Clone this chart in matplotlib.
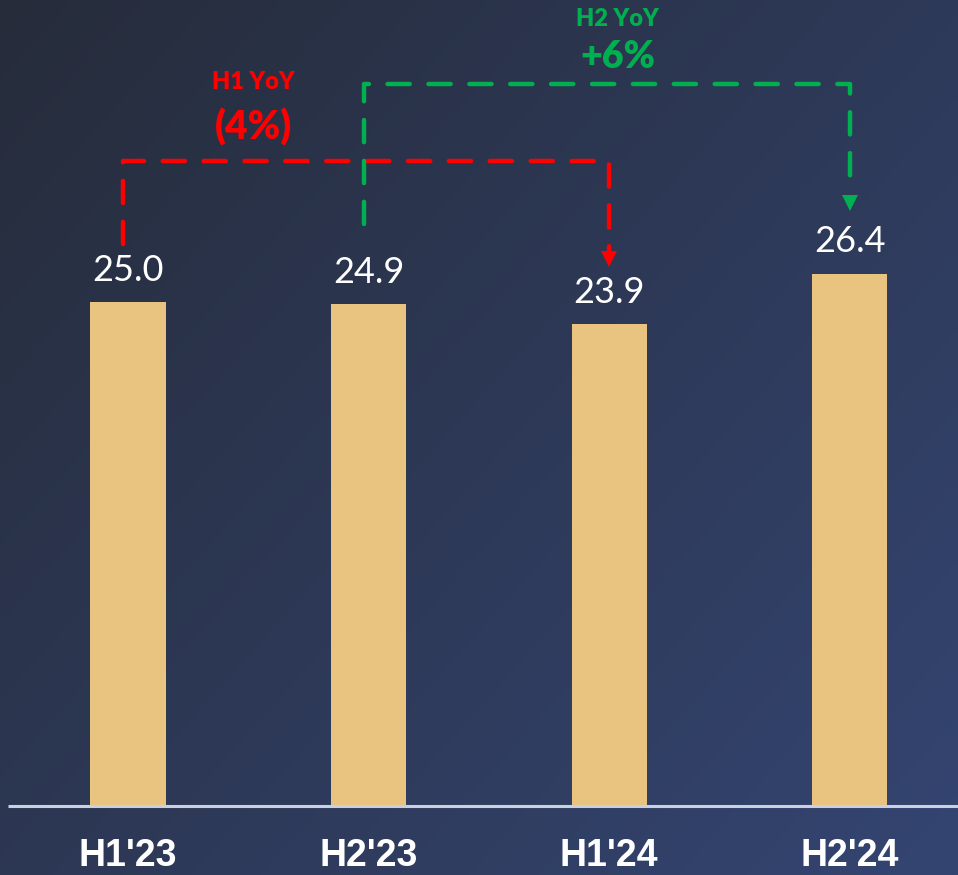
import numpy as np
import matplotlib.pyplot as plt

# data
periods = ["H1'23", "H2'23", "H1'24", "H2'24"]
values = [25.0, 24.9, 23.9, 26.4]
h1_label = "H1 YoY"
h1_change = "(4%)"
h2_label = "H2 YoY"
h2_change = "+6%"

bar_col = '#E8C480'
red = '#FF0000'
green = '#00B050'

fig = plt.figure(figsize=(9.58, 8.75), dpi=100)

# diagonal gradient background (dark top-left, bluer bottom-right)
bg = fig.add_axes([0, 0, 1, 1], zorder=0)
gx, gy = np.meshgrid(np.linspace(0, 1, 300), np.linspace(0, 1, 300))
t = np.clip(0.55 * gx + 0.45 * gy, 0, 1)
c0 = np.array([0x26, 0x2c, 0x3a]) / 255.0
c1 = np.array([0x34, 0x45, 0x72]) / 255.0
img = c0[None, None, :] * (1 - t[..., None]) + c1[None, None, :] * t[..., None]
bg.imshow(img, extent=[0, 1, 0, 1], origin='upper', aspect='auto')
bg.axis('off')

ax = fig.add_axes([0, 0, 1, 1], zorder=1)
ax.patch.set_alpha(0)
x = np.arange(len(periods))
ax.set_xlim(-0.532, 3.449)
ax.set_ylim(-3.42, 40.0)
ax.axis('off')

ax.bar(x, values, width=0.312, color=bar_col, zorder=2)
ax.plot([-0.4986, 3.449], [0, 0], color='#c9d0e0', lw=2.2, zorder=3,
        solid_capstyle='butt')

for xi, v in zip(x, values):
    ax.text(xi, v + 1.6, f"{v:.1f}", ha='center', va='center', color='white',
            fontsize=26, family='Lato', fontweight='normal')
for xi, p in zip(x, periods):
    ax.text(xi, -2.5, p, ha='center', va='center', color='white',
            fontsize=27, family='Liberation Sans', fontweight='bold')

def bracket(x0, x1, y0, y1, ytop, col):
    ax.plot([x0, x0, x1, x1], [y0, ytop, ytop, y1 + 0.75], color=col, lw=3.2,
            dashes=(5, 4.2), dash_capstyle='round', solid_capstyle='round',
            zorder=4)
    ax.plot([x1], [y1 + 0.35], marker='v', markersize=11, color=col,
            markeredgewidth=0, zorder=4)

# H1 YoY: H1'23 -> H1'24
bracket(x[0] - 0.02, x[2], values[0] + 2.9, values[2] + 2.9, 32.0, red)
# H2 YoY: H2'23 -> H2'24
bracket(x[1] - 0.02, x[3], values[1] + 4.0, values[3] + 3.2, 35.85, green)

ax.text(0.52, 35.95, h1_label, ha='center', va='center', color=red,
        fontsize=17, family='Lato', fontweight='heavy')
ax.text(0.52, 33.7, h1_change, ha='center', va='center', color=red,
        fontsize=28, family='Lato', fontweight='heavy')
ax.text(2.035, 39.05, h2_label, ha='center', va='center', color=green,
        fontsize=17, family='Lato', fontweight='heavy')
ax.text(2.035, 37.15, h2_change, ha='center', va='center', color=green,
        fontsize=27, family='Lato', fontweight='heavy')

plt.savefig('out.png', dpi=100)
